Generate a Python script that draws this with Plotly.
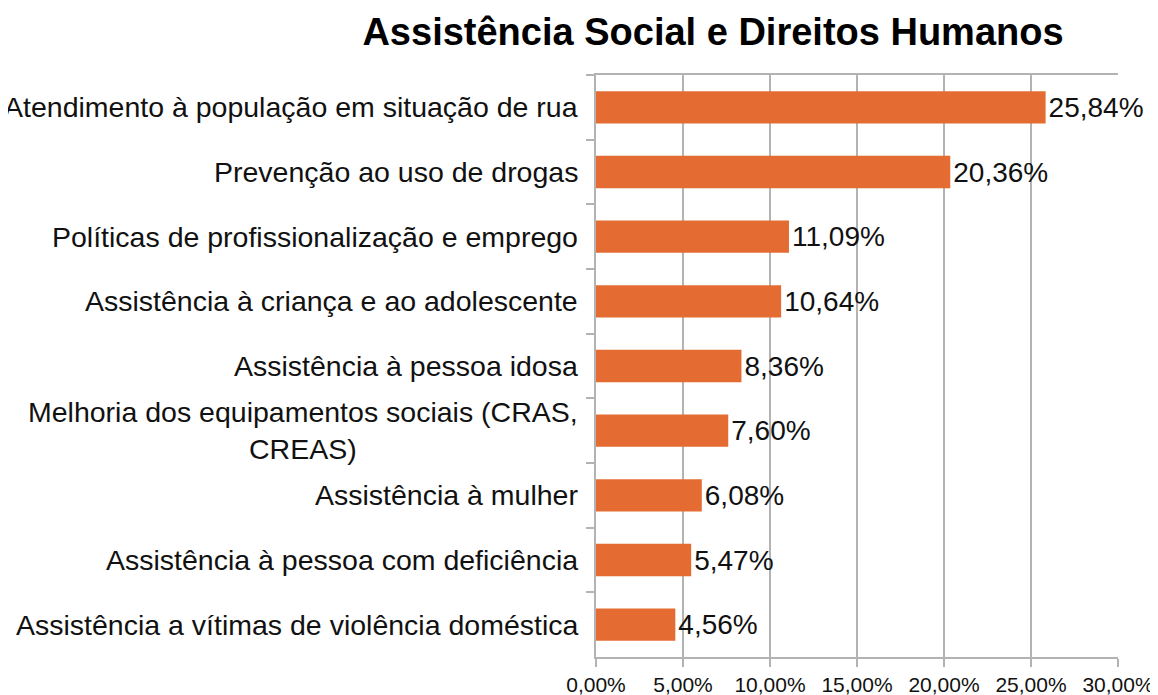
import plotly.graph_objects as go

categories = [
    "Atendimento à população em situação de rua",
    "Prevenção ao uso de drogas",
    "Políticas de profissionalização e emprego",
    "Assistência à criança e ao adolescente",
    "Assistência à pessoa idosa",
    "Melhoria dos equipamentos sociais (CRAS,<br>CREAS)",
    "Assistência à mulher",
    "Assistência à pessoa com deficiência",
    "Assistência a vítimas de violência doméstica",
]
values = [25.84, 20.36, 11.09, 10.64, 8.36, 7.60, 6.08, 5.47, 4.56]
tick_vals = [0, 5, 10, 15, 20, 25, 30]
tick_text = ["0,00%", "5,00%", "10,00%", "15,00%", "20,00%", "25,00%", "30,00%"]
value_labels = [f"{v:.2f}".replace(".", ",") + "%" for v in values]

FONT = "Liberation Sans, Arial, sans-serif"
BAR = "#E46C32"
GRID = "#b3b3b3"
TXT = "#111111"

W, H = 1150, 687

fig = go.Figure(go.Bar(
    x=values, y=categories, orientation="h",
    marker=dict(color=BAR, line=dict(width=0)),
    text=value_labels, textposition="outside", cliponaxis=False,
    constraintext="none",
    textfont=dict(family=FONT, size=28, color=TXT),
))

for c in categories:
    fig.add_annotation(
        x=0, xref="paper", y=c, yref="y", text=c, showarrow=False,
        xanchor="right", yanchor="middle", align="center", xshift=-16,
        font=dict(family=FONT, size=28.5, color=TXT),
    )

fig.update_layout(
    width=W, height=H,
    margin=dict(l=588, r=40, t=67, b=38, autoexpand=False),
    paper_bgcolor="white", plot_bgcolor="white",
    bargap=0.5, showlegend=False,
    title=dict(text="<b>Assistência Social e Direitos Humanos</b>",
               x=705 / W, xref="container", xanchor="center",
               y=1 - 24 / H, yref="container", yanchor="middle",
               font=dict(family=FONT, size=38, color="#000000")),
)
fig.update_xaxes(
    range=[0, 30], tickvals=tick_vals, ticktext=tick_text, automargin=False,
    showgrid=True, gridcolor=GRID, gridwidth=1.5,
    showline=True, linecolor=GRID, linewidth=1.5, mirror=True,
    ticks="outside", ticklen=8, tickcolor=GRID, tickwidth=1.5,
    tickfont=dict(family=FONT, size=21, color=TXT), zeroline=False,
)
fig.update_yaxes(
    autorange="reversed", showticklabels=False, automargin=False,
    ticks="outside", ticklen=8, tickcolor=GRID, tickwidth=1.5, tickson="boundaries",
    showline=True, linecolor=GRID, linewidth=1.5, showgrid=False,
)

fig.write_html("out.html")
